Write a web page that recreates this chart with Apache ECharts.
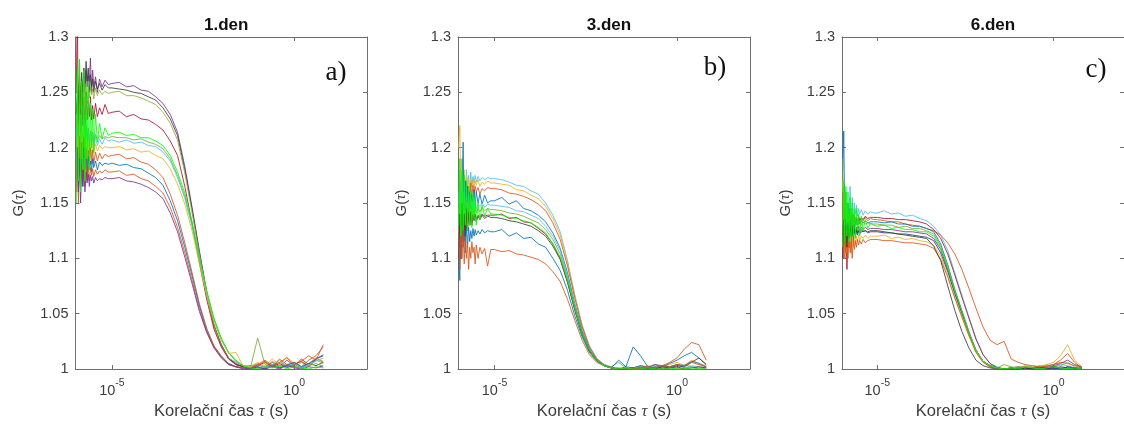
<!DOCTYPE html>
<html><head><meta charset="utf-8">
<script src="https://cdn.jsdelivr.net/npm/echarts@6/dist/echarts.min.js"></script>
<style>html,body{margin:0;padding:0;background:#fff}#c{width:1124px;height:425px}</style>
</head><body><div id="c"></div>
<script>
// log10 of correlation time tau (s)
const logTau = [-5.98,-5.95,-5.92,-5.89,-5.86,-5.83,-5.80,-5.77,-5.74,-5.71,-5.68,-5.65,-5.62,-5.59,-5.56,-5.53,-5.50,-5.45,-5.40,-5.34,-5.27,-5.19,-5.10,
  -5.0,-4.8,-4.6,-4.4,-4.2,-4.0,-3.8,-3.6,-3.4,-3.2,-3.0,-2.8,-2.6,-2.4,-2.2,-2.0,-1.8,-1.6,-1.4,-1.2,-1.0,-0.8,-0.6,-0.4,-0.2,0.0,0.2,0.4,0.6,0.8];
const xTickExponents = [-5, 0];
const yMin = 1, yMax = 1.3, yStep = 0.05;
const panelTitles = ['1.den', '3.den', '6.den'];
const panelTags = ['a)', 'b)', 'c)'];
const xAxisTitle = 'Korelační čas {i|τ} (s)';
const yAxisTitle = 'G({i|τ})';

// ---- day 1 ----
const p1_purple = [1.20,1.24,1.22,1.26,1.23,1.255,1.24,1.262,1.25,1.27,1.255,1.265,1.26,1.281,1.25,1.27,1.255,1.264,1.25,1.262,1.255,1.261,1.257,
  1.258,1.259,1.255,1.256,1.252,1.251,1.246,1.240,1.230,1.214,1.183,1.146,1.107,1.070,1.040,1.022,1.010,1.005,1.002,1.003,1.004,1.001,1.006,1.002,1.008,1.003,1.009,1.004,1.010,1.006];
const p1_dark = [1.23,1.25,1.235,1.265,1.24,1.268,1.25,1.272,1.255,1.278,1.26,1.272,1.25,1.266,1.255,1.262,1.25,1.26,1.253,1.258,1.252,1.257,1.254,
  1.254,1.253,1.252,1.250,1.249,1.246,1.243,1.236,1.226,1.211,1.180,1.144,1.105,1.069,1.039,1.022,1.010,1.004,1.002,1.001,1.002,1.000,1.003,1.001,1.004,1.002,1.001,1.005,1.003,1.006];
const p1_olive = [1.21,1.24,1.225,1.26,1.235,1.255,1.238,1.262,1.245,1.258,1.24,1.256,1.245,1.255,1.248,1.253,1.244,1.254,1.247,1.252,1.248,1.251,1.249,
  1.250,1.251,1.247,1.247,1.245,1.242,1.239,1.232,1.222,1.207,1.177,1.141,1.104,1.068,1.039,1.021,1.010,1.006,1.003,1.002,1.005,1.002,1.007,1.003,1.004,1.001,1.006,1.003,1.008,1.005];
const p1_darkred = [1.25,1.32,1.21,1.28,1.19,1.26,1.22,1.245,1.215,1.25,1.225,1.242,1.228,1.246,1.225,1.238,1.226,1.24,1.228,1.236,1.23,1.239,1.231,
  1.232,1.233,1.228,1.230,1.226,1.225,1.221,1.216,1.206,1.193,1.165,1.131,1.096,1.063,1.036,1.020,1.009,1.004,1.002,1.001,1.003,1.006,1.002,1.005,1.001,1.004,1.007,1.002,1.009,1.012];
const p1_green = [1.18,1.23,1.19,1.24,1.2,1.225,1.19,1.23,1.2,1.22,1.205,1.218,1.2,1.215,1.205,1.214,1.206,1.212,1.207,1.211,1.208,1.21,1.209,
  1.210,1.209,1.209,1.207,1.208,1.205,1.203,1.199,1.190,1.175,1.156,1.131,1.100,1.070,1.045,1.027,1.015,1.007,1.003,1.001,1.028,1.004,1.002,1.006,1.002,1.004,1.001,1.003,1.005,1.002];
const p1_cyan = [1.19,1.22,1.18,1.23,1.195,1.215,1.185,1.225,1.19,1.22,1.2,1.215,1.195,1.212,1.2,1.21,1.198,1.21,1.202,1.208,1.203,1.209,1.206,
  1.207,1.205,1.207,1.204,1.205,1.202,1.201,1.196,1.188,1.173,1.154,1.129,1.098,1.069,1.045,1.027,1.015,1.007,1.003,1.002,1.004,1.001,1.003,1.008,1.002,1.005,1.001,1.004,1.007,1.010];
const p1_yellow = [1.17,1.21,1.18,1.225,1.175,1.215,1.185,1.22,1.19,1.21,1.185,1.205,1.195,1.21,1.19,1.205,1.196,1.203,1.197,1.202,1.199,1.201,1.2,
  1.200,1.201,1.198,1.199,1.196,1.197,1.193,1.190,1.181,1.167,1.149,1.125,1.095,1.067,1.043,1.026,1.014,1.015,1.003,1.002,1.006,1.003,1.009,1.004,1.011,1.005,1.008,1.003,1.010,1.007];
const p1_orange = [1.16,1.2,1.17,1.21,1.165,1.205,1.175,1.21,1.18,1.2,1.175,1.198,1.182,1.2,1.185,1.198,1.186,1.196,1.188,1.195,1.19,1.194,1.192,
  1.193,1.194,1.190,1.191,1.187,1.185,1.180,1.173,1.158,1.139,1.114,1.087,1.059,1.037,1.021,1.012,1.005,1.002,1.001,1.000,1.003,1.007,1.002,1.009,1.004,1.006,1.002,1.008,1.012,1.020];
const p1_blue = [1.17,1.2,1.16,1.195,1.175,1.19,1.165,1.2,1.18,1.19,1.17,1.192,1.18,1.188,1.178,1.19,1.182,1.188,1.18,1.187,1.184,1.186,1.185,
  1.186,1.184,1.185,1.182,1.181,1.177,1.173,1.166,1.152,1.134,1.110,1.084,1.057,1.035,1.020,1.011,1.005,1.002,1.001,1.000,1.002,1.000,1.004,1.001,1.003,1.006,1.002,1.005,1.009,1.013];
const p1_orange2 = [1.16,1.19,1.15,1.2,1.165,1.185,1.17,1.19,1.165,1.185,1.172,1.183,1.17,1.182,1.175,1.181,1.174,1.18,1.176,1.179,1.177,1.18,1.178,
  1.178,1.179,1.175,1.176,1.172,1.170,1.165,1.159,1.146,1.128,1.105,1.080,1.054,1.034,1.020,1.011,1.004,1.002,1.001,1.001,1.004,1.008,1.003,1.006,1.010,1.004,1.007,1.012,1.008,1.022];
const p1_purple2 = [1.17,1.2,1.16,1.19,1.15,1.185,1.165,1.18,1.16,1.178,1.168,1.176,1.165,1.175,1.17,1.174,1.168,1.173,1.17,1.172,1.171,1.173,1.172,
  1.172,1.173,1.170,1.169,1.167,1.164,1.160,1.154,1.141,1.124,1.101,1.077,1.052,1.033,1.019,1.010,1.004,1.002,1.000,1.000,1.001,1.000,1.002,1.000,1.003,1.001,1.000,1.002,1.001,1.003];
const p1_lime = [1.15,1.27,1.17,1.28,1.16,1.26,1.18,1.27,1.17,1.25,1.19,1.26,1.18,1.24,1.2,1.235,1.195,1.23,1.205,1.222,1.208,1.218,1.211,
  1.213,1.214,1.211,1.212,1.209,1.209,1.206,1.202,1.193,1.178,1.159,1.133,1.101,1.071,1.046,1.028,1.015,1.008,1.003,1.001,1.000,1.002,1.001,1.003,1.000,1.002,1.001,1.000,1.002,1.001];

// ---- day 3 ----
const p2_cyan = [1.14,1.18,1.15,1.19,1.16,1.175,1.155,1.18,1.165,1.175,1.16,1.178,1.165,1.174,1.168,1.175,1.169,1.174,1.17,1.173,1.171,1.173,1.172,
  1.172,1.171,1.169,1.166,1.165,1.161,1.158,1.150,1.139,1.124,1.098,1.067,1.040,1.021,1.010,1.004,1.001,1.001,1.000,1.001,1.002,1.000,1.003,1.001,1.002,1.004,1.001,1.003,1.002,1.001];
const p2_yellow = [1.2,1.22,1.15,1.19,1.14,1.18,1.155,1.175,1.16,1.172,1.162,1.17,1.165,1.172,1.163,1.17,1.166,1.171,1.165,1.169,1.167,1.17,1.168,
  1.168,1.167,1.166,1.162,1.161,1.157,1.154,1.147,1.136,1.121,1.096,1.066,1.039,1.020,1.009,1.004,1.001,1.000,1.001,1.000,1.001,1.003,1.000,1.002,1.004,1.006,1.003,1.008,1.005,1.003];
const p2_orange = [1.13,1.17,1.12,1.16,1.135,1.165,1.14,1.17,1.15,1.165,1.145,1.168,1.155,1.166,1.158,1.165,1.16,1.164,1.158,1.163,1.161,1.164,1.163,
  1.163,1.162,1.159,1.158,1.156,1.153,1.149,1.143,1.132,1.117,1.093,1.064,1.038,1.020,1.009,1.004,1.001,1.000,1.000,1.001,1.003,1.002,1.004,1.003,1.006,1.010,1.018,1.024,1.022,1.008];
const p2_blue = [1.1,1.08,1.15,1.13,1.205,1.12,1.17,1.135,1.165,1.14,1.16,1.145,1.158,1.15,1.162,1.148,1.16,1.15,1.158,1.149,1.157,1.15,1.152,
  1.152,1.155,1.149,1.152,1.145,1.143,1.139,1.133,1.123,1.109,1.087,1.059,1.035,1.018,1.008,1.003,1.001,1.000,1.002,1.001,1.003,1.001,1.004,1.002,1.005,1.008,1.012,1.015,1.010,1.004];
const p2_cyan2 = [1.12,1.16,1.13,1.17,1.125,1.16,1.135,1.155,1.14,1.158,1.142,1.152,1.144,1.151,1.146,1.15,1.145,1.149,1.147,1.15,1.146,1.149,1.148,
  1.148,1.147,1.146,1.143,1.142,1.139,1.136,1.129,1.120,1.107,1.084,1.058,1.034,1.018,1.008,1.004,1.002,1.001,1.000,1.001,1.002,1.000,1.001,1.003,1.002,1.001,1.004,1.002,1.001,1.002];
const p2_green = [1.12,1.15,1.11,1.16,1.13,1.15,1.12,1.155,1.135,1.15,1.13,1.148,1.138,1.146,1.14,1.147,1.141,1.145,1.142,1.146,1.143,1.145,1.144,
  1.144,1.143,1.141,1.140,1.138,1.135,1.132,1.126,1.117,1.104,1.082,1.056,1.033,1.017,1.008,1.003,1.002,1.006,1.001,1.000,1.002,1.001,1.000,1.002,1.001,1.000,1.001,1.002,1.000,1.001];
const p2_dark = [1.1,1.14,1.11,1.15,1.12,1.14,1.115,1.145,1.125,1.14,1.13,1.142,1.13,1.138,1.134,1.14,1.133,1.138,1.135,1.139,1.136,1.138,1.137,
  1.137,1.136,1.134,1.133,1.131,1.129,1.125,1.120,1.111,1.099,1.078,1.053,1.031,1.016,1.008,1.003,1.001,1.000,1.000,1.001,1.000,1.001,1.000,1.002,1.001,1.003,1.002,1.006,1.010,1.004];
const p2_red = [1.11,1.13,1.1,1.14,1.115,1.135,1.12,1.14,1.125,1.142,1.13,1.138,1.132,1.14,1.135,1.14,1.136,1.139,1.137,1.14,1.138,1.139,1.139,
  1.139,1.140,1.136,1.137,1.133,1.132,1.127,1.122,1.113,1.100,1.079,1.054,1.032,1.017,1.008,1.003,1.001,1.000,1.000,1.000,1.001,1.000,1.002,1.000,1.001,1.002,1.000,1.001,1.002,1.001];
const p2_blue2 = [1.09,1.12,1.1,1.13,1.11,1.125,1.105,1.13,1.11,1.128,1.115,1.125,1.118,1.127,1.12,1.126,1.121,1.125,1.122,1.126,1.123,1.125,1.124,
  1.124,1.126,1.120,1.123,1.118,1.119,1.113,1.110,1.100,1.089,1.071,1.048,1.029,1.015,1.007,1.003,1.001,1.008,1.002,1.020,1.012,1.002,1.001,1.003,1.002,1.004,1.003,1.007,1.005,1.002];
const p2_orange2 = [1.12,1.09,1.13,1.1,1.125,1.095,1.12,1.1,1.115,1.09,1.11,1.1,1.115,1.105,1.11,1.095,1.112,1.1,1.11,1.104,1.109,1.093,1.108,
  1.108,1.106,1.107,1.104,1.103,1.101,1.099,1.095,1.088,1.079,1.063,1.044,1.026,1.013,1.006,1.003,1.001,1.000,1.001,1.000,1.001,1.002,1.001,1.003,1.002,1.004,1.003,1.006,1.004,1.002];
const p2_lime = [1.13,1.19,1.12,1.18,1.125,1.175,1.13,1.17,1.125,1.165,1.13,1.16,1.128,1.158,1.135,1.155,1.13,1.15,1.135,1.148,1.138,1.145,1.14,
  1.140,1.139,1.137,1.136,1.134,1.132,1.128,1.123,1.113,1.101,1.080,1.055,1.032,1.017,1.008,1.003,1.001,1.000,1.001,1.000,1.000,1.001,1.000,1.000,1.001,1.000,1.000,1.001,1.000,1.000];

// ---- day 6 ----
const p3_cyan = [1.13,1.15,1.12,1.145,1.13,1.15,1.135,1.165,1.13,1.155,1.135,1.15,1.14,1.148,1.138,1.145,1.14,1.144,1.139,1.143,1.14,1.142,1.141,
  1.141,1.143,1.140,1.141,1.138,1.139,1.136,1.134,1.129,1.121,1.107,1.087,1.067,1.047,1.028,1.013,1.005,1.002,1.000,1.001,1.002,1.001,1.003,1.002,1.001,1.002,1.004,1.003,1.001,1.002];
const p3_orangeLate = [1.12,1.15,1.11,1.14,1.12,1.145,1.125,1.14,1.13,1.138,1.128,1.14,1.13,1.137,1.132,1.138,1.133,1.136,1.134,1.137,1.134,1.136,1.135,
  1.135,1.134,1.133,1.133,1.131,1.130,1.129,1.127,1.125,1.121,1.114,1.104,1.090,1.073,1.055,1.038,1.026,1.022,1.025,1.009,1.006,1.004,1.003,1.002,1.003,1.004,1.006,1.005,1.003,1.002];
const p3_darkred = [1.12,1.14,1.1,1.13,1.09,1.12,1.11,1.135,1.12,1.14,1.125,1.138,1.13,1.136,1.132,1.138,1.134,1.137,1.135,1.138,1.136,1.137,1.137,
  1.137,1.136,1.136,1.135,1.135,1.134,1.133,1.131,1.126,1.118,1.104,1.085,1.065,1.046,1.027,1.013,1.005,1.001,1.000,1.000,1.000,1.001,1.000,1.002,1.000,1.001,1.000,1.002,1.001,1.000];
const p3_blue = [1.18,1.215,1.13,1.16,1.12,1.15,1.125,1.145,1.12,1.14,1.128,1.138,1.13,1.136,1.13,1.135,1.131,1.134,1.132,1.134,1.132,1.133,1.133,
  1.133,1.132,1.133,1.131,1.131,1.129,1.129,1.127,1.124,1.113,1.094,1.072,1.053,1.034,1.017,1.007,1.003,1.001,1.000,1.001,1.002,1.001,1.000,1.001,1.002,1.001,1.000,1.002,1.001,1.000];
const p3_green = [1.19,1.12,1.16,1.13,1.15,1.12,1.14,1.125,1.145,1.13,1.14,1.128,1.137,1.13,1.135,1.13,1.134,1.13,1.133,1.131,1.132,1.131,1.131,
  1.131,1.130,1.130,1.128,1.129,1.127,1.127,1.125,1.122,1.111,1.093,1.071,1.052,1.033,1.017,1.007,1.003,1.001,1.004,1.002,1.001,1.003,1.002,1.001,1.004,1.002,1.003,1.006,1.002,1.001];
const p3_purple = [1.1,1.14,1.11,1.135,1.115,1.13,1.11,1.135,1.12,1.13,1.118,1.13,1.122,1.128,1.124,1.129,1.125,1.128,1.126,1.128,1.126,1.127,1.127,
  1.127,1.126,1.126,1.125,1.124,1.124,1.123,1.122,1.118,1.108,1.090,1.069,1.051,1.032,1.017,1.007,1.003,1.001,1.000,1.000,1.001,1.000,1.001,1.002,1.001,1.003,1.005,1.008,1.004,1.002];
const p3_navy = [1.1,1.13,1.105,1.125,1.11,1.13,1.115,1.125,1.11,1.128,1.118,1.126,1.12,1.125,1.121,1.125,1.122,1.124,1.123,1.125,1.123,1.124,1.124,
  1.124,1.123,1.123,1.122,1.122,1.121,1.120,1.119,1.116,1.105,1.088,1.068,1.050,1.032,1.016,1.007,1.002,1.001,1.000,1.000,1.000,1.001,1.000,1.000,1.001,1.000,1.002,1.001,1.000,1.001];
const p3_yellow = [1.17,1.13,1.1,1.125,1.105,1.12,1.11,1.125,1.105,1.12,1.11,1.122,1.112,1.12,1.115,1.121,1.116,1.12,1.118,1.121,1.118,1.12,1.12,
  1.120,1.121,1.118,1.119,1.117,1.118,1.116,1.115,1.112,1.102,1.085,1.065,1.048,1.031,1.016,1.007,1.002,1.001,1.000,1.001,1.002,1.001,1.003,1.002,1.004,1.006,1.012,1.022,1.008,1.002];
const p3_orange = [1.16,1.1,1.13,1.105,1.125,1.1,1.12,1.105,1.115,1.1,1.118,1.108,1.116,1.11,1.117,1.112,1.116,1.113,1.117,1.114,1.116,1.117,1.117,
  1.117,1.116,1.116,1.115,1.114,1.114,1.113,1.112,1.109,1.099,1.083,1.064,1.047,1.030,1.015,1.006,1.002,1.001,1.000,1.000,1.001,1.002,1.001,1.003,1.002,1.004,1.008,1.014,1.006,1.001];
const p3_dark = [1.11,1.135,1.115,1.13,1.11,1.132,1.118,1.128,1.12,1.127,1.121,1.126,1.122,1.126,1.123,1.125,1.123,1.126,1.124,1.125,1.124,1.125,1.125,
  1.125,1.124,1.123,1.122,1.121,1.120,1.119,1.118,1.111,1.098,1.075,1.053,1.034,1.019,1.008,1.003,1.001,1.000,1.000,1.001,1.000,1.001,1.000,1.001,1.000,1.002,1.001,1.000,1.001,1.000];
const p3_lime = [1.11,1.17,1.115,1.165,1.12,1.16,1.115,1.155,1.12,1.15,1.12,1.145,1.118,1.145,1.125,1.14,1.12,1.138,1.125,1.135,1.127,1.132,1.13,
  1.129,1.130,1.127,1.128,1.126,1.126,1.124,1.124,1.120,1.110,1.092,1.070,1.052,1.033,1.017,1.007,1.003,1.001,1.000,1.001,1.000,1.002,1.001,1.000,1.001,1.002,1.001,1.000,1.001,1.000];

const day1Curves = [p1_purple, p1_dark, p1_olive, p1_darkred, p1_green, p1_cyan, p1_yellow, p1_orange, p1_blue, p1_orange2, p1_purple2, p1_lime];
const day1Colors = ['#7E2F8E', '#3a3a3a', '#8FAE3A', '#A2142F', '#77AC30', '#4DBEEE', '#EDB120', '#D95319', '#0072BD', '#D95319', '#7E2F8E', '#00FF00'];
const day3Curves = [p2_cyan, p2_yellow, p2_orange, p2_blue, p2_cyan2, p2_green, p2_dark, p2_red, p2_blue2, p2_orange2, p2_lime];
const day3Colors = ['#4DBEEE', '#EDB120', '#D95319', '#0072BD', '#4DBEEE', '#77AC30', '#3a3a3a', '#A2142F', '#0072BD', '#D95319', '#00FF00'];
const day6Curves = [p3_cyan, p3_orangeLate, p3_darkred, p3_blue, p3_green, p3_purple, p3_navy, p3_yellow, p3_orange, p3_dark, p3_lime];
const day6Colors = ['#4DBEEE', '#D95319', '#A2142F', '#0072BD', '#77AC30', '#7E2F8E', '#23398A', '#EDB120', '#D95319', '#3a3a3a', '#00FF00'];

const panels = [
  { curves: day1Curves, colors: day1Colors },
  { curves: day3Curves, colors: day3Colors },
  { curves: day6Curves, colors: day6Colors }
];

// ---- layout / style ----
const gridBoxes = [
  { left: 75.5, top: 37, width: 291.5, height: 332 },
  { left: 458, top: 37, width: 292, height: 332 },
  { left: 842, top: 37, width: 292, height: 332 }
];
const tagPos = [[336, 73], [715, 68], [1096, 70]];
const axisColor = '#6e6e6e';
const labelColor = '#3c3c3c';
const FONT = 'Liberation Sans, Arial, sans-serif';

const grid = [], xAxis = [], yAxis = [], series = [], title = [], graphic = [];
gridBoxes.forEach((g, gi) => {
  grid.push(Object.assign({ containLabel: false, show: false }, g));
  const tickCommon = { show: true, inside: true, length: 4, lineStyle: { color: axisColor } };
  const lineCommon = { show: true, onZero: false, lineStyle: { color: axisColor, width: 1 } };
  xAxis.push({
    type: 'value', gridIndex: gi, min: -6, max: 2, position: 'bottom',
    axisLine: lineCommon,
    axisTick: Object.assign({ customValues: xTickExponents }, tickCommon),
    axisLabel: {
      customValues: xTickExponents, margin: 9,
      formatter: v => '{b|10}{s|' + v + '}',
      rich: {
        b: { fontSize: 14.5, fontFamily: FONT, color: labelColor, lineHeight: 20, verticalAlign: 'bottom' },
        s: { fontSize: 10.5, fontFamily: FONT, color: labelColor, lineHeight: 10, verticalAlign: 'top' }
      }
    },
    splitLine: { show: false },
    name: xAxisTitle, nameLocation: 'middle', nameGap: 33,
    nameTextStyle: { fontSize: 16.5, fontFamily: FONT, color: labelColor,
      rich: { i: { fontSize: 16.5, fontFamily: 'Liberation Serif, serif', fontStyle: 'italic', color: labelColor } } }
  });
  xAxis.push({
    type: 'value', gridIndex: gi, min: -6, max: 2, position: 'top',
    axisLine: lineCommon,
    axisTick: Object.assign({ customValues: xTickExponents }, tickCommon),
    axisLabel: { show: false }, splitLine: { show: false }
  });
  yAxis.push({
    type: 'value', gridIndex: gi, min: yMin, max: yMax, interval: yStep, position: 'left',
    axisLine: lineCommon, axisTick: tickCommon,
    axisLabel: { margin: 7, fontSize: 14.5, fontFamily: FONT, color: labelColor,
      formatter: v => String(Math.round(v * 100) / 100) },
    splitLine: { show: false },
    name: yAxisTitle, nameLocation: 'middle', nameGap: 49, nameRotate: 90,
    nameTextStyle: { fontSize: 15, fontFamily: FONT, color: labelColor,
      rich: { i: { fontSize: 15, fontFamily: 'Liberation Serif, serif', fontStyle: 'italic', color: labelColor } } }
  });
  yAxis.push({
    type: 'value', gridIndex: gi, min: yMin, max: yMax, interval: yStep, position: 'right',
    axisLine: lineCommon, axisTick: tickCommon,
    axisLabel: { show: false }, splitLine: { show: false }
  });
  title.push({
    text: panelTitles[gi], left: g.left + (gi === 2 ? 146 : g.width / 2), top: 12, textAlign: 'center',
    textStyle: { fontSize: 17, fontWeight: 'bold', fontFamily: FONT, color: '#111' }
  });
  graphic.push({
    type: 'text', x: tagPos[gi][0], y: tagPos[gi][1],
    style: { text: panelTags[gi], font: '27px "Liberation Serif", "Times New Roman", serif', fill: '#111',
      align: 'center', verticalAlign: 'middle' }
  });
  const p = panels[gi];
  p.curves.forEach((ys, ci) => {
    series.push({
      type: 'line', xAxisIndex: gi * 2, yAxisIndex: gi * 2,
      data: logTau.map((x, i) => [x, ys[i]]),
      showSymbol: false, symbol: 'none', silent: true, clip: true,
      lineStyle: { width: 1, color: p.colors[ci], opacity: 0.85 }, itemStyle: { color: p.colors[ci] }
    });
  });
});

const chart = echarts.init(document.getElementById('c'), null, { renderer: 'canvas' });
chart.setOption({ animation: false, backgroundColor: '#fff', title, grid, xAxis, yAxis, series, graphic });
</script>
</body></html>
